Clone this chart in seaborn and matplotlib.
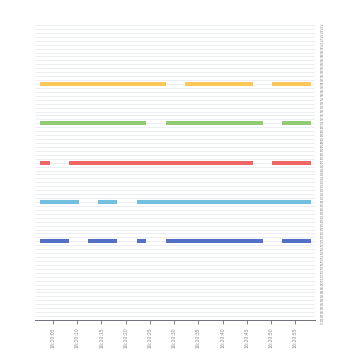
import numpy as np
import pandas as pd
import matplotlib
matplotlib.use("Agg")
import matplotlib.pyplot as plt
import seaborn as sns

sns.set_theme(style="white")
plt.rcParams['font.family'] = ['DejaVu Sans']

# seconds after 16:20:00
seconds = [2.3, 4.3, 6.3, 8.3, 10.3, 12.3, 14.3, 16.3, 18.3, 20.3,
           22.3, 24.3, 26.3, 28.3, 30.3, 32.3, 34.3, 36.3, 38.3, 40.3,
           42.3, 44.3, 46.3, 48.3, 50.3, 52.3, 54.3, 56.3, 58.3]
N = np.nan
series_names = ["A", "B", "C", "D", "E"]
series_colors = ["#5470c6", "#73c0de", "#ee6666", "#91cc75", "#fac858"]
s_a = [2, 2, 2, 2, N, 2, 2, 2, 2, N, 2, 2, N, 2, 2, 2, 2, 2, 2, 2, 2, 2, 2, 2, N, 2, 2, 2, 2]
s_b = [3, 3, 3, 3, 3, N, 3, 3, 3, N, 3, 3, 3, 3, 3, 3, 3, 3, 3, 3, 3, 3, 3, 3, 3, 3, 3, 3, 3]
s_c = [4, 4, N, 4, 4, 4, 4, 4, 4, 4, 4, 4, 4, 4, 4, 4, 4, 4, 4, 4, 4, 4, 4, N, 4, 4, 4, 4, 4]
s_d = [5, 5, 5, 5, 5, 5, 5, 5, 5, 5, 5, 5, N, 5, 5, 5, 5, 5, 5, 5, 5, 5, 5, 5, N, 5, 5, 5, 5]
s_e = [6, 6, 6, 6, 6, 6, 6, 6, 6, 6, 6, 6, 6, 6, N, 6, 6, 6, 6, 6, 6, 6, 6, N, 6, 6, 6, 6, 6]
x_ticks = [5, 10, 15, 20, 25, 30, 35, 40, 45, 50, 55]
x_tick_labels = ["16:20:05", "16:20:10", "16:20:15", "16:20:20", "16:20:25", "16:20:30",
                 "16:20:35", "16:20:40", "16:20:45", "16:20:50", "16:20:55"]

rows = []
for name, vals in zip(series_names, [s_a, s_b, s_c, s_d, s_e]):
    seg = 0
    prev_nan = False
    for t, v in zip(seconds, vals):
        if np.isnan(v):
            if not prev_nan:
                seg += 1
            prev_nan = True
            continue
        prev_nan = False
        rows.append({"t": t, "v": v, "series": name, "seg": f"{name}{seg}"})
df = pd.DataFrame(rows)

fig = plt.figure(figsize=(3.5, 3.5), dpi=100)
ax = fig.add_axes([0.1, 0.0857, 0.8, 0.8429])

sns.lineplot(data=df, x="t", y="v", hue="series", units="seg", estimator=None,
             palette=dict(zip(series_names, series_colors)), linewidth=2.9,
             legend=False, ax=ax, solid_capstyle="butt")

ax.set_xlim(1.28, 59.1)
ax.set_ylim(0, 7.5)
yt = np.round(np.arange(0, 7.51, 0.1), 1)
ax.set_yticks(yt)
ax.set_yticklabels([f"{v:.1f}" for v in yt], rotation=-90, fontsize=2.6, color="#8a8a8a")
ax.yaxis.tick_right()
ax.tick_params(axis="y", length=0, pad=2)
ax.grid(axis="y", color="#e8ebf2", linewidth=0.6)
ax.set_axisbelow(True)

ax.set_xticks(x_ticks)
ax.set_xticklabels(x_tick_labels, rotation=90, fontsize=3.3, color="#8a8a8a")
ax.tick_params(axis="x", length=3, width=0.6, color="#6e7079", pad=2, bottom=True)

for s in ["top", "left", "right"]:
    ax.spines[s].set_visible(False)
ax.spines["bottom"].set_color("#6e7079")
ax.spines["bottom"].set_linewidth(0.7)
ax.set_xlabel("")
ax.set_ylabel("")

fig.savefig("out.png", dpi=100)
